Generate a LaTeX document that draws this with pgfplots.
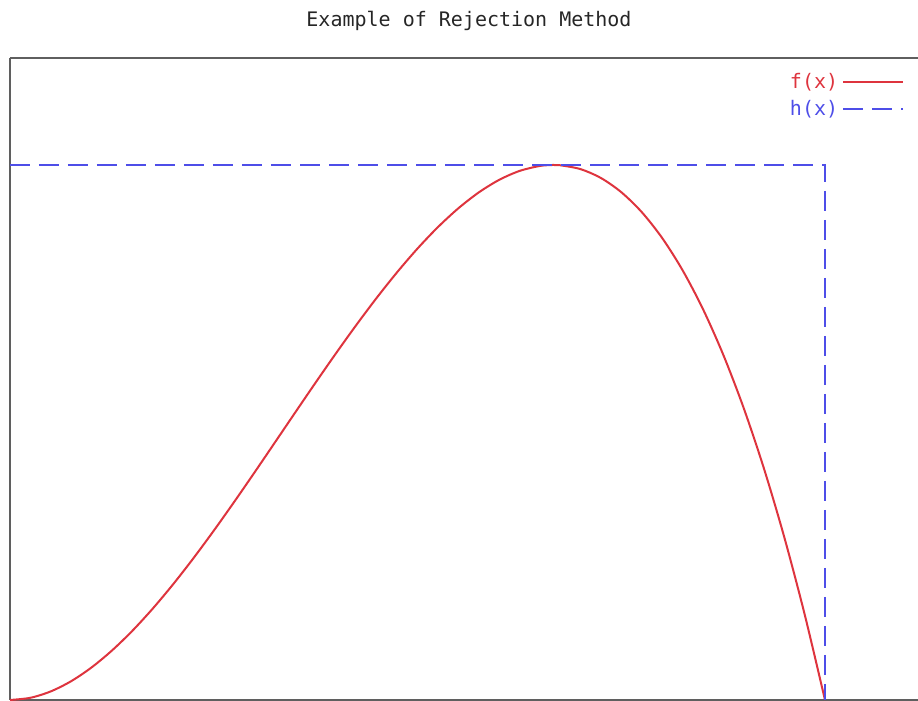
\documentclass[border=0pt]{standalone}
\usepackage{fontspec}
\usepackage{pgfplots}
\pgfplotsset{compat=1.18}
\newfontfamily\mono{DejaVu Sans Mono}
\definecolor{fred}{RGB}{222,52,62}
\definecolor{hblue}{RGB}{78,78,232}
\definecolor{boxgray}{RGB}{95,95,95}
\begin{document}
\begin{tikzpicture}
\begin{axis}[
  at={(0,0)}, anchor=south west,
  scale only axis,
  width=459pt, height=321pt,
  xmin=0, xmax=1.1264, ymin=0, ymax=2.1333,
  xtick=\empty, ytick=\empty,
  axis x line*=box, axis y line*=left,
  axis line style={boxgray, line width=1.1pt},
  title={\mono\fontsize{10}{12}\selectfont Example of Rejection Method},
  title style={at={(0.5,1)}, anchor=center, yshift=12.5pt, text=black!85},
  legend style={draw=none, fill=none, at={(0.981,0.99)}, anchor=north east,
    font=\mono\fontsize{10}{12}\selectfont, row sep=0.5pt,
    /tikz/every even column/.append style={column sep=5pt}},
  legend image code/.code={\draw[#1] (0pt,0pt) -- (30pt,0pt);},
  legend plot pos=right,
  legend cell align=right,
  clip=false,
]
\addplot[fred, line width=1pt, smooth] coordinates {
(0,0) (0.025,0.00731) (0.05,0.0285) (0.075,0.0624) (0.1,0.108) (0.125,0.1641)
(0.15,0.2295) (0.175,0.3032) (0.2,0.384) (0.225,0.4708) (0.25,0.5625)
(0.275,0.6579) (0.3,0.756) (0.325,0.8556) (0.35,0.9555) (0.375,1.0547)
(0.4,1.152) (0.425,1.2463) (0.45,1.3365) (0.475,1.4214) (0.5,1.5)
(0.525,1.5711) (0.55,1.6335) (0.575,1.6862) (0.6,1.728) (0.625,1.7578)
(0.65,1.7745) (0.6667,1.7778) (0.675,1.7769) (0.7,1.764) (0.725,1.7346)
(0.75,1.6875) (0.775,1.6217) (0.8,1.536) (0.825,1.4293) (0.85,1.3005)
(0.875,1.1484) (0.9,0.972) (0.925,0.7701) (0.95,0.5415) (0.975,0.2852) (1,0)
};
\addlegendentry{\textcolor{fred}{f(x)}}
\addplot[hblue, line width=1pt, dash pattern=on 10pt off 4.5pt] coordinates {
(0,1.7778) (1.0,1.7778) (1.0,0)
};
\addlegendentry{\textcolor{hblue}{h(x)}}
\end{axis}
\pgfresetboundingbox
\path[use as bounding box] (-5pt,-0.5pt) rectangle (454pt,350pt);
\end{tikzpicture}
\end{document}
